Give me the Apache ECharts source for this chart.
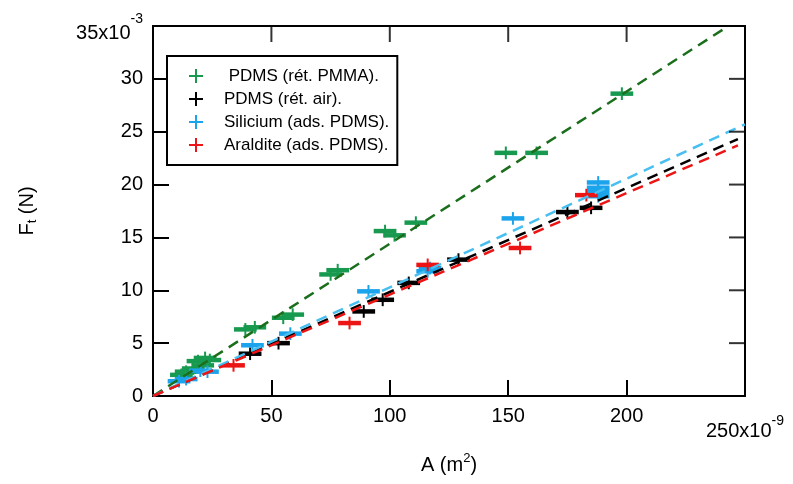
<!DOCTYPE html>
<html>
<head>
<meta charset="utf-8">
<script src="https://cdn.jsdelivr.net/npm/echarts@6/dist/echarts.min.js"></script>
<style>html,body{margin:0;padding:0;background:#fff}#c{width:793px;height:484px}</style>
</head>
<body>
<div id="c"></div>
<script>
// ---- data (x in 1e-9 m^2, y in 1e-3 N) ----
const seriesNames = [' PDMS (rét. PMMA).', 'PDMS (rét. air).', 'Silicium (ads. PDMS).', 'Araldite (ads. PDMS).'];
const greenPts = [[12,2.0],[14,2.3],[17,2.6],[19,3.3],[21,2.9],[22,3.6],[24,3.4],[39,6.3],[43,6.5],[55,7.4],[59,7.7],[75,11.5],[78,11.9],[98,15.6],[102,15.2],[111,16.4],[149,23.0],[162,23.0],[198,28.6]];
const blackPts = [[41,4.0],[53,5.0],[89,8.0],[97,9.1],[108,10.7],[129,12.9],[175,17.4],[185,17.8]];
const bluePts = [[11,1.4],[14,1.6],[20,2.4],[23,2.3],[42,4.8],[58,5.9],[91,9.9],[116,11.8],[117,12.1],[152,16.8],[188,18.9],[188,19.3],[188,19.7],[188,20.2]];
const redPts = [[34,2.9],[83,6.9],[116,12.4],[155,14.0],[183,19.0]];
const fitGreen = [[0,0],[243,35]];
const fitBlack = [[0,0],[247,24.3]];
const fitBlue = [[0,0],[250,25.7]];
const fitRed = [[0,0],[247,23.7]];
const xTickValues = [50, 100, 150, 200];
const yTickValues = [5, 10, 15, 20, 25, 30];
const XERR = 4.8, YERR = 0.6;
const X_MIN = 0, X_MAX = 250, X_STEP = 50;
const Y_MIN = 0, Y_MAX = 35, Y_STEP = 5;

const FONT = 'Liberation Sans, Arial, sans-serif';
const C_GREEN = '#179a4f', C_GREEN_LINE = '#1b6e1b';
const C_BLACK = '#000000';
const C_BLUE = '#1ba4ec', C_BLUE_LINE = '#48bff0';
const C_RED = '#ec1414';

function makeRender(color) {
  return function (params, api) {
    const x = api.value(0), y = api.value(1);
    const l = api.coord([x - XERR, y]), r = api.coord([x + XERR, y]);
    const t = api.coord([x, y + YERR]), b = api.coord([x, y - YERR]);
    return {
      type: 'group',
      children: [
        { type: 'line', shape: { x1: l[0], y1: l[1], x2: r[0], y2: r[1] }, style: { stroke: color, lineWidth: 4.5 } },
        { type: 'line', shape: { x1: t[0], y1: t[1], x2: b[0], y2: b[1] }, style: { stroke: color, lineWidth: 2 } }
      ]
    };
  };
}
function pts(name, data, color) {
  return { name: name, type: 'custom', data: data, encode: { x: 0, y: 1 }, itemStyle: { color: color }, renderItem: makeRender(color), z: 3 };
}
function fit(name, data, color) {
  return { name: name, type: 'line', data: data, symbol: 'none', silent: true, z: 4,
    lineStyle: { color: color, width: 2.5, type: [11, 7] } };
}
// tick marks on the top and right sides (mirror of the axis ticks), placed through the scales
function tickMarks(name, data, size, offset) {
  return { name: name, type: 'scatter', data: data, symbol: 'rect', symbolSize: size, symbolOffset: offset,
    itemStyle: { color: '#000' }, silent: true, clip: false, z: 5, emphasis: { disabled: true } };
}
const tickStyle = { show: true, inside: true, length: 16, lineStyle: { color: '#000', width: 2 } };
const labelBase = { color: '#000', fontSize: 20, fontFamily: FONT };

const chart = echarts.init(document.getElementById('c'), null, { renderer: 'canvas' });
chart.setOption({
  animation: false,
  backgroundColor: '#fff',
  grid: { left: 153, top: 26, right: 48, bottom: 88, show: true, borderColor: '#000', borderWidth: 2, containLabel: false },
  legend: {
    data: seriesNames, orient: 'vertical', left: 167, top: 56,
    backgroundColor: '#fff', borderColor: '#000', borderWidth: 2,
    padding: [11, 8, 11, 22], itemGap: 5, itemWidth: 14, itemHeight: 14,
    icon: 'path://M6,0h2v6h6v2h-6v6h-2v-6h-6v-2h6z',
    textStyle: { color: '#000', fontSize: 17, fontFamily: FONT, lineHeight: 18, padding: [0, 0, 0, 16] }
  },
  xAxis: {
    type: 'value', min: X_MIN, max: X_MAX, interval: X_STEP, position: 'bottom',
    axisLine: { show: false }, axisTick: tickStyle, splitLine: { show: false },
    axisLabel: Object.assign({}, labelBase, { margin: 10,
      formatter: v => v === X_MAX ? '{b|' + v + 'x10}{s|-9}' : String(v),
      rich: { b: { fontSize: 20, fontFamily: FONT, color: '#000', lineHeight: 50 },
              s: { fontSize: 14, fontFamily: FONT, color: '#000', verticalAlign: 'top', padding: [8, 0, 0, 0] } } }),
    name: '{n|A (m}{s|2}{n|)}', nameLocation: 'middle', nameGap: 56,
    nameTextStyle: { rich: { n: { fontSize: 20, fontFamily: FONT, color: '#000', lineHeight: 26 },
                             s: { fontSize: 13, fontFamily: FONT, color: '#000', verticalAlign: 'top', lineHeight: 16 } } }
  },
  yAxis: {
    type: 'value', min: Y_MIN, max: Y_MAX, interval: Y_STEP, position: 'left',
    axisLine: { show: false }, axisTick: tickStyle, splitLine: { show: false },
    axisLabel: Object.assign({}, labelBase, { margin: 10,
      formatter: v => v === Y_MAX ? '{b|' + v + 'x10}{s|-3}' : String(v),
      rich: { b: { fontSize: 20, fontFamily: FONT, color: '#000', lineHeight: 34, verticalAlign: 'bottom' },
              s: { fontSize: 14, fontFamily: FONT, color: '#000', verticalAlign: 'top', padding: [3, 0, 0, 0] } } }),
    name: '{n|F}{t|t}{n| (N)}', nameLocation: 'middle', nameGap: 114, nameRotate: 90,
    nameTextStyle: { rich: { n: { fontSize: 20, fontFamily: FONT, color: '#000', lineHeight: 24 },
                             t: { fontSize: 13, fontFamily: FONT, color: '#000', verticalAlign: 'bottom', lineHeight: 24 } } }
  },
  series: [
    pts(seriesNames[0], greenPts, C_GREEN),
    pts(seriesNames[1], blackPts, C_BLACK),
    pts(seriesNames[2], bluePts, C_BLUE),
    pts(seriesNames[3], redPts, C_RED),
    fit('fitGreen', fitGreen, C_GREEN_LINE),
    fit('fitBlack', fitBlack, C_BLACK),
    fit('fitBlue', fitBlue, C_BLUE_LINE),
    fit('fitRed', fitRed, C_RED),
    tickMarks('topTicks', xTickValues.map(v => [v, Y_MAX]), [2, 16], [0, 8]),
    tickMarks('rightTicks', yTickValues.map(v => [X_MAX, v]), [16, 2], [-8, 0])
  ]
});
</script>
</body>
</html>
